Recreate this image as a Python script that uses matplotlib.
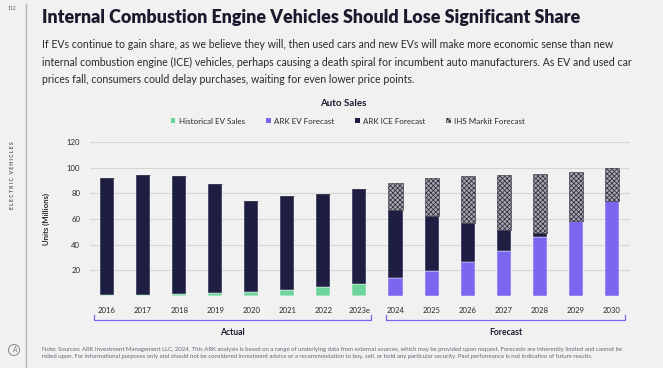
import numpy as np
import matplotlib.pyplot as plt
from matplotlib.patches import Patch, Circle
import matplotlib.transforms as mtransforms

# Dados do grafico (milhoes de unidades)
anos = ['2016', '2017', '2018', '2019', '2020', '2021', '2022', '2023e',
        '2024', '2025', '2026', '2027', '2028', '2029', '2030']
ev_historico = [0.4, 0.9, 1.5, 2.0, 2.8, 4.5, 7.3, 9.6, 0, 0, 0, 0, 0, 0, 0]
ev_ark = [0, 0, 0, 0, 0, 0, 0, 0, 14.3, 19.8, 26.5, 35.4, 46.0, 58.8, 74.2]
ice_ark = [91.6, 93.6, 92.2, 85.4, 71.4, 73.5, 72.3, 73.4,
           52.7, 42.2, 30.0, 16.4, 3.4, 0, 0]
ihs_total = [0, 0, 0, 0, 0, 0, 0, 0, 88.0, 91.6, 93.4, 94.5, 95.0, 96.3, 100.0]

cor_fundo = '#f1f1f1'
cor_verde = '#6dd49c'
cor_roxo = '#7b66f0'
cor_navy = '#1e1e42'
cor_hatch = '#2e2e3c'
cor_ihs = '#a8a8b2'

plt.rcParams['font.family'] = ['Lato', 'DejaVu Sans']
plt.rcParams['hatch.linewidth'] = 0.55

W, H = 663, 368
fig = plt.figure(figsize=(W / 100, H / 100), dpi=100, facecolor=cor_fundo)


def fx(x):
    return x / W


def fy(y):
    return 1 - y / H


# Cabecalho
fig.text(fx(12), fy(8), '112', fontsize=3.5, color='#555555', ha='center', va='center')
fig.add_artist(plt.Line2D([fx(26), fx(26)], [fy(4), 0], color='#b5b5b5', lw=1))
fig.text(fx(12), fy(175), 'E L E C T R I C   V E H I C L E S', fontsize=3.7, color='#555555',
         rotation=90, ha='center', va='center', fontweight='bold')
# logo no canto inferior (polegadas)
fig.add_artist(Circle((0.14, (H - 350) / 100), 0.055, transform=fig.dpi_scale_trans,
                      fill=False, edgecolor='#888888', lw=0.7))
fig.text(fx(14), fy(350), 'A', fontsize=5, color='#888888', ha='center', va='center',
         style='italic')
fig.text(fx(42), fy(18), 'Internal Combustion Engine Vehicles Should Lose Significant Share',
         fontsize=12.9, fontweight='heavy', color='#1a1a2e', ha='left', va='center')
corpo = ('If EVs continue to gain share, as we believe they will, then used cars and new EVs will make more economic sense than new\n'
         'internal combustion engine (ICE) vehicles, perhaps causing a death spiral for incumbent auto manufacturers. As EV and used car\n'
         'prices fall, consumers could delay purchases, waiting for even lower price points.')
fig.text(fx(42), fy(62), corpo, fontsize=7.6, color='#2a2a2a', ha='left', va='center',
         linespacing=1.75)

# Eixo principal
ax = fig.add_axes([fx(90), fy(296), fx(630) - fx(90), fy(142) - fy(296)])
ax.set_facecolor(cor_fundo)
x = np.arange(len(anos))
largura = 0.39

ev_historico = np.array(ev_historico)
ev_ark = np.array(ev_ark)
ice_ark = np.array(ice_ark)
ihs_total = np.array(ihs_total)

ax.bar(x, ev_historico, largura, color=cor_verde, edgecolor='white', lw=0.3, zorder=3)
ax.bar(x, ev_ark, largura, color=cor_roxo, edgecolor='white', lw=0.3, zorder=3)
base_ice = ev_historico + ev_ark
ax.bar(x, ice_ark, largura, bottom=base_ice, color=cor_navy, edgecolor='white', lw=0.3, zorder=3)
base_ihs = base_ice + ice_ark
ihs = np.where(ihs_total > 0, ihs_total - base_ihs, 0)
ax.bar(x, ihs, largura, bottom=base_ihs, color=cor_ihs, edgecolor=cor_hatch,
       hatch='xxxxxxx', lw=0.4, zorder=3)

ax.set_xlim(-0.47, 14.5)
ax.set_ylim(0, 120)
ax.set_yticks(np.arange(0, 121, 20))
ax.set_yticklabels([''] + [str(v) for v in range(20, 121, 20)])
ax.set_xticks(x)
ax.set_xticklabels(anos)
ax.tick_params(axis='both', length=0, labelsize=5.6, colors='#2a2a2a')
ax.tick_params(axis='x', pad=8)
ax.tick_params(axis='y', pad=7)
ax.grid(axis='y', color='#d6d6d6', lw=0.8, zorder=0)
for s in ax.spines.values():
    s.set_visible(False)
ax.set_ylabel('Units (Millions)', fontsize=5.6, fontweight='bold', color='#2a2a2a', labelpad=12)

# Chaves Actual / Forecast
trans = mtransforms.blended_transform_factory(ax.transData, ax.transAxes)
for x0, x1, rotulo in [(-0.37, 7.32, 'Actual'), (7.73, 14.36, 'Forecast')]:
    ax.plot([x0, x0, x1, x1], [-0.123, -0.158, -0.158, -0.123], color=cor_roxo,
            lw=0.9, transform=trans, clip_on=False)
    ax.text((x0 + x1) / 2, -0.235, rotulo, transform=trans, ha='center', va='center',
            fontsize=6.2, fontweight='bold', color='#1a1a2e')

# Titulo e legenda
fig.text(fx(343), fy(103), 'Auto Sales', fontsize=7, fontweight='bold', color='#1a1a2e',
         ha='center', va='center')
handles = [Patch(facecolor=cor_verde, label='Historical EV Sales'),
           Patch(facecolor=cor_roxo, label='ARK EV Forecast'),
           Patch(facecolor=cor_navy, label='ARK ICE Forecast'),
           Patch(facecolor=cor_ihs, edgecolor=cor_hatch, hatch='xxxxxxx', lw=0,
                 label='IHS Markit Forecast')]
fig.legend(handles=handles, loc='center', bbox_to_anchor=(fx(348), fy(121)), ncol=4,
           frameon=False, fontsize=5.8, handlelength=0.6, handleheight=0.6,
           handletextpad=0.4, columnspacing=2.6, labelcolor='#2a2a2a')

# Nota de rodape
nota = ('Note: Sources: ARK Investment Management LLC, 2024. This ARK analysis is based on a range of underlying data from external sources, which may be provided upon request. Forecasts are inherently limited and cannot be\n'
        'relied upon. For informational purposes only and should not be considered investment advice or a recommendation to buy, sell, or hold any particular security. Past performance is not indicative of future results.')
fig.text(fx(42), fy(353), nota, fontsize=4.35, color='#666677', ha='left', va='center',
         linespacing=1.4)

fig.savefig('out.png', dpi=100, facecolor=cor_fundo)
